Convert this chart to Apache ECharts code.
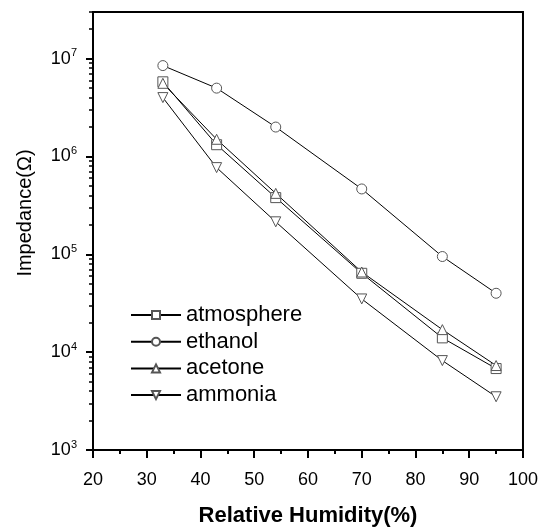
<!DOCTYPE html>
<html>
<head>
<meta charset="utf-8">
<script src="https://cdn.jsdelivr.net/npm/echarts@6/dist/echarts.min.js"></script>
<style>
html,body{margin:0;padding:0;background:#fff;}
#chart{width:541px;height:532px;}
</style>
</head>
<body>
<div id="chart"></div>
<script>
// relative humidity (%)
var humidity = [33, 43, 54, 70, 85, 95];
// impedance (ohm) for each gas
var atmosphere = [5.8e6, 1.32e6, 3.8e5, 6.4e4, 1.4e4, 6.8e3];
var ethanol = [8.5e6, 5.0e6, 2.0e6, 4.66e5, 9.5e4, 4.0e4];
var acetone = [5.6e6, 1.5e6, 4.2e5, 6.6e4, 1.7e4, 7.3e3];
var ammonia = [4.0e6, 7.7e5, 2.15e5, 3.5e4, 8.2e3, 3.5e3];
var seriesNames = ['atmosphere', 'ethanol', 'acetone', 'ammonia'];

// tick values on the y axis
var yMajor = [1e3, 1e4, 1e5, 1e6, 1e7];
var yMinor = [];
for (var p = 3; p < 8; p++) {
	for (var m = 2; m <= 9; m++) {
		var v = m * Math.pow(10, p);
		if (v <= 3e7) yMinor.push(v);
	}
}

function pairs(ys) {
	var out = [];
	for (var i = 0; i < humidity.length; i++) {
		out.push([humidity[i], ys[i]]);
	}
	return out;
}

function makeSeries(name, ys, symbol, rotate) {
	return {
		name : name,
		type : 'line',
		data : pairs(ys),
		symbol : symbol,
		symbolSize : 10,
		symbolRotate : rotate,
		showAllSymbol : true,
		lineStyle : {
			color : '#000',
			width : 1
		},
		itemStyle : {
			color : '#fff',
			borderColor : '#555',
			borderWidth : 1
		},
		emphasis : {
			disabled : true
		}
	};
}

var option = {
	animation : false,
	textStyle : {
		fontFamily : 'Liberation Sans, Arial, sans-serif'
	},
	grid : {
		left : 93,
		right : 18,
		top : 12,
		bottom : 71,
		show : true,
		borderColor : '#000',
		borderWidth : 2
	},
	legend : {
		orient : 'vertical',
		left : 130,
		top : 304,
		padding : 0,
		itemWidth : 50,
		itemHeight : 10,
		itemGap : 4.7,
		data : seriesNames,
		textStyle : {
			fontSize : 22,
			lineHeight : 22,
			color : '#000'
		}
	},
	xAxis : {
		type : 'value',
		min : 20,
		max : 100,
		interval : 10,
		name : 'Relative Humidity(%)',
		nameLocation : 'middle',
		nameGap : 55,
		nameTextStyle : {
			fontSize : 22,
			fontWeight : 'bold',
			color : '#000'
		},
		splitLine : {
			show : false
		},
		axisLine : {
			lineStyle : {
				color : '#000',
				width : 2
			}
		},
		axisTick : {
			length : 8,
			lineStyle : {
				width : 2
			}
		},
		minorTick : {
			show : true,
			splitNumber : 2,
			length : 4,
			lineStyle : {
				color : '#000',
				width : 2
			}
		},
		axisLabel : {
			fontSize : 18,
			color : '#000',
			margin : 21
		}
	},
	yAxis : [ {
		type : 'log',
		min : 1e3,
		max : 3e7,
		position : 'left',
		name : 'Impedance(Ω)',
		nameLocation : 'middle',
		nameGap : 58,
		nameTextStyle : {
			fontSize : 20,
			color : '#000',
			padding : [0, 0, 0, 36]
		},
		splitLine : {
			show : false
		},
		axisLine : {
			lineStyle : {
				color : '#000',
				width : 2
			}
		},
		axisTick : {
			length : 7,
			customValues : yMajor,
			lineStyle : {
				width : 2
			}
		},
		axisLabel : {
			customValues : yMajor,
			margin : 16,
			formatter : function(v) {
				return '{b|10}{s|' + Math.round(Math.log10(v)) + '}';
			},
			rich : {
				b : {
					fontSize : 18,
					color : '#000',
					lineHeight : 22
				},
				s : {
					fontSize : 11,
					color : '#000',
					verticalAlign : 'top',
					lineHeight : 14
				}
			}
		}
	}, {
		type : 'log',
		min : 1e3,
		max : 3e7,
		position : 'left',
		offset : 0,
		axisLine : {
			show : false
		},
		splitLine : {
			show : false
		},
		axisLabel : {
			show : false
		},
		axisTick : {
			length : 4,
			customValues : yMinor,
			lineStyle : {
				color : '#000',
				width : 1.5
			}
		}
	} ],
	series : [
		makeSeries('atmosphere', atmosphere, 'rect', 0),
		makeSeries('ethanol', ethanol, 'circle', 0),
		makeSeries('acetone', acetone, 'triangle', 0),
		makeSeries('ammonia', ammonia, 'triangle', 180)
	]
};

var myChart = echarts.init(document.getElementById('chart'));
myChart.setOption(option, true);
</script>
</body>
</html>
